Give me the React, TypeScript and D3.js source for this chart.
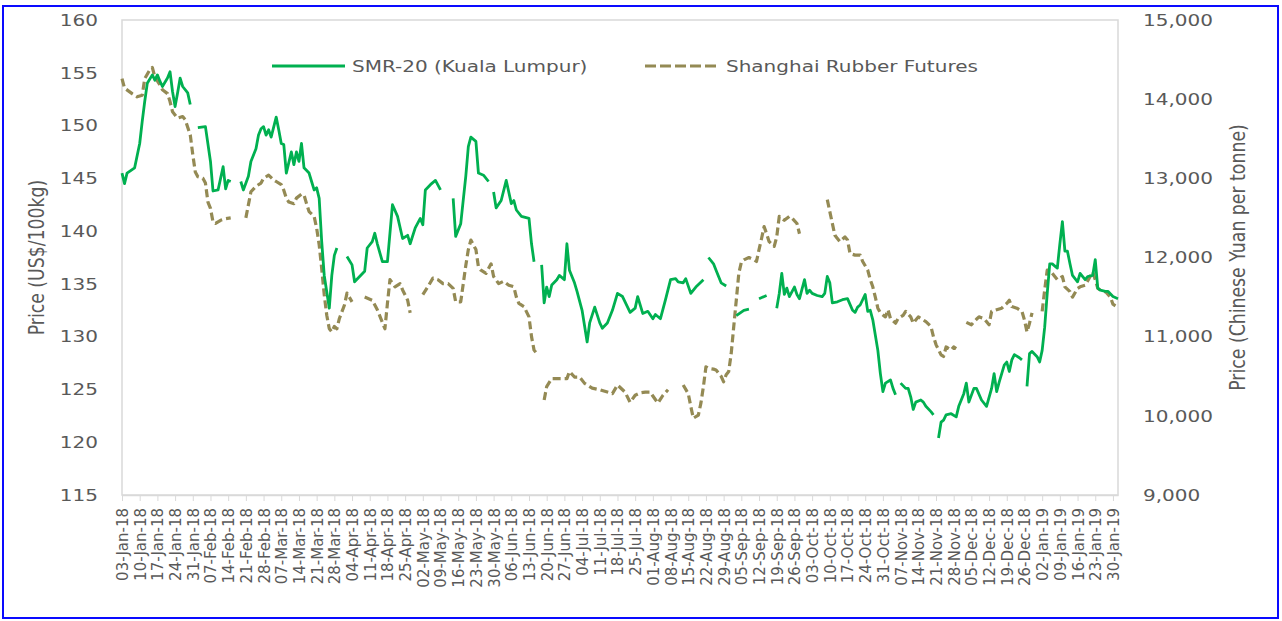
import React, { useEffect, useRef } from 'react';
import * as d3 from 'd3';

// SMR-20 (Kuala Lumpur), US$/100kg, one inner array per unbroken run of the line
const smrDates: string[][] = [
  ['2018-01-03', '2018-01-04', '2018-01-05', '2018-01-08', '2018-01-10', '2018-01-11', '2018-01-12', '2018-01-13', '2018-01-15', '2018-01-16', '2018-01-17', '2018-01-18', '2018-01-19', '2018-01-21', '2018-01-22', '2018-01-23', '2018-01-24', '2018-01-25', '2018-01-26', '2018-01-27', '2018-01-29', '2018-01-30'],
  ['2018-02-02', '2018-02-05', '2018-02-07', '2018-02-08', '2018-02-10', '2018-02-11', '2018-02-12', '2018-02-13', '2018-02-14', '2018-02-15'],
  ['2018-02-19', '2018-02-20', '2018-02-22', '2018-02-23', '2018-02-25', '2018-02-26', '2018-02-27', '2018-02-28', '2018-03-01', '2018-03-02', '2018-03-03', '2018-03-05', '2018-03-06', '2018-03-07', '2018-03-08', '2018-03-09', '2018-03-11', '2018-03-12', '2018-03-13', '2018-03-14', '2018-03-15', '2018-03-16', '2018-03-18', '2018-03-19', '2018-03-20', '2018-03-21', '2018-03-22', '2018-03-23', '2018-03-24', '2018-03-26', '2018-03-27', '2018-03-28', '2018-03-29'],
  ['2018-04-02', '2018-04-04', '2018-04-05', '2018-04-07', '2018-04-09', '2018-04-10', '2018-04-12', '2018-04-13', '2018-04-14', '2018-04-16', '2018-04-18', '2018-04-20', '2018-04-22', '2018-04-24', '2018-04-26', '2018-04-27', '2018-04-29', '2018-05-01', '2018-05-02', '2018-05-03', '2018-05-05', '2018-05-07', '2018-05-09'],
  ['2018-05-14', '2018-05-15', '2018-05-17', '2018-05-19', '2018-05-20', '2018-05-21', '2018-05-23', '2018-05-24', '2018-05-26', '2018-05-28'],
  ['2018-05-30', '2018-05-31', '2018-06-02', '2018-06-04', '2018-06-06', '2018-06-07', '2018-06-08', '2018-06-10', '2018-06-13', '2018-06-14', '2018-06-15'],
  ['2018-06-18', '2018-06-19', '2018-06-20', '2018-06-21', '2018-06-22', '2018-06-24', '2018-06-25', '2018-06-27', '2018-06-28', '2018-06-29', '2018-07-01', '2018-07-02', '2018-07-04', '2018-07-06', '2018-07-07', '2018-07-09', '2018-07-11', '2018-07-12', '2018-07-14', '2018-07-16', '2018-07-18', '2018-07-20', '2018-07-23', '2018-07-25', '2018-07-26', '2018-07-28', '2018-07-30', '2018-08-01', '2018-08-02', '2018-08-04', '2018-08-06', '2018-08-08', '2018-08-10', '2018-08-11', '2018-08-13', '2018-08-14', '2018-08-16', '2018-08-18', '2018-08-21'],
  ['2018-08-23', '2018-08-25', '2018-08-26', '2018-08-27', '2018-08-28', '2018-08-30'],
  ['2018-09-03', '2018-09-06', '2018-09-08'],
  ['2018-09-12', '2018-09-15'],
  ['2018-09-19', '2018-09-20', '2018-09-21', '2018-09-22', '2018-09-23', '2018-09-24', '2018-09-26', '2018-09-27', '2018-09-28', '2018-09-30', '2018-10-01', '2018-10-02', '2018-10-03', '2018-10-05', '2018-10-07', '2018-10-08', '2018-10-09', '2018-10-10', '2018-10-11', '2018-10-13', '2018-10-15', '2018-10-17', '2018-10-19', '2018-10-20', '2018-10-21', '2018-10-22', '2018-10-24', '2018-10-25', '2018-10-26', '2018-10-27', '2018-10-29', '2018-10-30', '2018-10-31', '2018-11-01', '2018-11-03', '2018-11-04', '2018-11-05'],
  ['2018-11-07', '2018-11-09', '2018-11-10', '2018-11-11', '2018-11-12', '2018-11-13', '2018-11-15', '2018-11-16', '2018-11-17', '2018-11-19', '2018-11-20'],
  ['2018-11-22', '2018-11-23', '2018-11-24', '2018-11-25', '2018-11-27', '2018-11-29', '2018-11-30', '2018-12-02', '2018-12-03', '2018-12-04', '2018-12-06', '2018-12-07', '2018-12-09', '2018-12-11', '2018-12-13', '2018-12-14', '2018-12-15', '2018-12-16', '2018-12-17', '2018-12-18', '2018-12-19', '2018-12-20', '2018-12-21', '2018-12-22', '2018-12-24', '2018-12-25'],
  ['2018-12-27', '2018-12-28', '2018-12-29', '2018-12-31', '2019-01-01', '2019-01-02', '2019-01-03', '2019-01-04', '2019-01-05', '2019-01-06', '2019-01-08', '2019-01-09', '2019-01-10', '2019-01-11', '2019-01-12', '2019-01-13', '2019-01-14', '2019-01-16', '2019-01-17', '2019-01-19', '2019-01-20', '2019-01-22', '2019-01-23', '2019-01-24', '2019-01-25', '2019-01-27', '2019-01-28', '2019-01-30', '2019-02-01'],
];
const smrValues: number[][] = [
  [145.5, 144.5, 145.5, 146.0, 148.3, 150.4, 152.3, 154.0, 154.8, 154.3, 154.8, 154.2, 153.7, 154.5, 155.1, 153.2, 151.8, 153.1, 154.5, 153.7, 153.1, 152.0],
  [149.8, 149.9, 146.6, 143.8, 143.9, 145.0, 146.1, 144.0, 144.8, 144.7],
  [144.7, 143.9, 145.2, 146.6, 147.8, 149.1, 149.7, 149.9, 149.1, 149.6, 148.9, 150.8, 149.6, 148.3, 148.2, 145.5, 147.5, 146.3, 147.5, 146.6, 148.3, 146.0, 145.5, 144.7, 143.9, 144.1, 143.1, 139.0, 135.8, 132.7, 135.8, 137.7, 138.4],
  [137.6, 136.8, 135.2, 135.7, 136.2, 138.4, 139.0, 139.8, 138.8, 137.1, 137.1, 142.5, 141.4, 139.3, 139.6, 138.8, 140.3, 141.2, 140.6, 143.9, 144.4, 144.8, 143.9],
  [143.1, 139.5, 140.7, 145.2, 148.0, 148.9, 148.5, 145.5, 145.3, 144.7],
  [143.7, 142.2, 142.9, 144.8, 142.6, 142.9, 142.0, 141.4, 141.2, 138.8, 137.1],
  [136.8, 133.2, 134.7, 133.8, 134.9, 135.4, 135.8, 135.4, 138.8, 136.3, 135.1, 134.3, 132.5, 129.5, 131.3, 132.8, 131.3, 130.8, 131.3, 132.5, 134.1, 133.8, 132.3, 132.7, 133.8, 132.2, 132.4, 131.7, 132.1, 131.7, 133.5, 135.4, 135.5, 135.2, 135.1, 135.5, 134.1, 134.7, 135.4],
  [137.5, 136.9, 136.3, 135.7, 135.1, 134.8],
  [132.0, 132.5, 132.6],
  [133.6, 133.9],
  [132.7, 134.1, 136.0, 134.0, 134.6, 133.8, 134.7, 134.0, 133.6, 135.4, 134.1, 134.4, 134.1, 133.9, 133.8, 134.1, 135.7, 135.1, 133.2, 133.3, 133.5, 133.6, 132.5, 132.3, 132.8, 133.0, 134.0, 132.4, 132.5, 131.6, 128.7, 126.5, 124.8, 125.6, 125.9, 125.1, 124.5],
  [125.6, 125.1, 125.1, 124.3, 123.1, 123.8, 124.0, 123.8, 123.4, 122.9, 122.6],
  [120.4, 121.9, 122.1, 122.6, 122.7, 122.4, 123.4, 124.6, 125.6, 123.8, 125.1, 125.1, 124.0, 123.4, 125.1, 126.5, 124.8, 125.7, 126.5, 127.3, 127.6, 126.7, 127.8, 128.3, 128.0, 127.8],
  [125.3, 128.4, 128.6, 128.1, 127.6, 128.7, 130.9, 134.1, 136.9, 136.9, 136.5, 138.8, 140.9, 138.1, 138.1, 136.9, 135.8, 135.2, 136.0, 135.4, 135.7, 135.8, 137.3, 134.6, 134.4, 134.3, 134.3, 133.8, 133.6],
];

// Shanghai Rubber Futures, yuan per tonne
const shfeDates: string[][] = [
  ['2018-01-03', '2018-01-04', '2018-01-07', '2018-01-09', '2018-01-11', '2018-01-12', '2018-01-14', '2018-01-15', '2018-01-16', '2018-01-18', '2018-01-19', '2018-01-21', '2018-01-22', '2018-01-23', '2018-01-25', '2018-01-27', '2018-01-28', '2018-01-30', '2018-01-31', '2018-02-01', '2018-02-02', '2018-02-04', '2018-02-05', '2018-02-06', '2018-02-07', '2018-02-08', '2018-02-09', '2018-02-11', '2018-02-13', '2018-02-15'],
  ['2018-02-21', '2018-02-23', '2018-02-25', '2018-02-27', '2018-02-28', '2018-03-02', '2018-03-04', '2018-03-05', '2018-03-07', '2018-03-08', '2018-03-09', '2018-03-10', '2018-03-12', '2018-03-13', '2018-03-15', '2018-03-16', '2018-03-17', '2018-03-18', '2018-03-20', '2018-03-21', '2018-03-22', '2018-03-23', '2018-03-24', '2018-03-25', '2018-03-26', '2018-03-27', '2018-03-28', '2018-03-29', '2018-03-30', '2018-04-01', '2018-04-02', '2018-04-04'],
  ['2018-04-09', '2018-04-12', '2018-04-14', '2018-04-17', '2018-04-18', '2018-04-19', '2018-04-21', '2018-04-23', '2018-04-24', '2018-04-26', '2018-04-27'],
  ['2018-05-02', '2018-05-04', '2018-05-06', '2018-05-08', '2018-05-10', '2018-05-12', '2018-05-14', '2018-05-15', '2018-05-17', '2018-05-18', '2018-05-19', '2018-05-20', '2018-05-21', '2018-05-23', '2018-05-24', '2018-05-25', '2018-05-27', '2018-05-29', '2018-05-30', '2018-06-01', '2018-06-03', '2018-06-05', '2018-06-07', '2018-06-08', '2018-06-09', '2018-06-11', '2018-06-13', '2018-06-14', '2018-06-15', '2018-06-16'],
  ['2018-06-19', '2018-06-20', '2018-06-22', '2018-06-25', '2018-06-28', '2018-06-29', '2018-07-01', '2018-07-03', '2018-07-05', '2018-07-08', '2018-07-11', '2018-07-14', '2018-07-16', '2018-07-18', '2018-07-21', '2018-07-23', '2018-07-25', '2018-07-27', '2018-07-29', '2018-07-31', '2018-08-01', '2018-08-03', '2018-08-05', '2018-08-07'],
  ['2018-08-13', '2018-08-15', '2018-08-16', '2018-08-17', '2018-08-19', '2018-08-20', '2018-08-21', '2018-08-22', '2018-08-23', '2018-08-25', '2018-08-26', '2018-08-28', '2018-08-29', '2018-08-30', '2018-08-31', '2018-09-01', '2018-09-02', '2018-09-03', '2018-09-04', '2018-09-05', '2018-09-06', '2018-09-08', '2018-09-10', '2018-09-11', '2018-09-12', '2018-09-13', '2018-09-14', '2018-09-15', '2018-09-16', '2018-09-18', '2018-09-19', '2018-09-20', '2018-09-22', '2018-09-24', '2018-09-25', '2018-09-27', '2018-09-28'],
  ['2018-10-09', '2018-10-10', '2018-10-11', '2018-10-12', '2018-10-13', '2018-10-14', '2018-10-16', '2018-10-17', '2018-10-18', '2018-10-20', '2018-10-22', '2018-10-23', '2018-10-25', '2018-10-26', '2018-10-27', '2018-10-28', '2018-10-29', '2018-10-30', '2018-11-01', '2018-11-02', '2018-11-03', '2018-11-05', '2018-11-06', '2018-11-08', '2018-11-09', '2018-11-11', '2018-11-12', '2018-11-14', '2018-11-15', '2018-11-17', '2018-11-19', '2018-11-20', '2018-11-21', '2018-11-23', '2018-11-24', '2018-11-25', '2018-11-27', '2018-11-28', '2018-11-29'],
  ['2018-12-03', '2018-12-05', '2018-12-07', '2018-12-08', '2018-12-10', '2018-12-12', '2018-12-13', '2018-12-15', '2018-12-17', '2018-12-19', '2018-12-20', '2018-12-21', '2018-12-23', '2018-12-25', '2018-12-26', '2018-12-27', '2018-12-28', '2018-12-29'],
  ['2019-01-02', '2019-01-03', '2019-01-04', '2019-01-05', '2019-01-07', '2019-01-08', '2019-01-10', '2019-01-11', '2019-01-13', '2019-01-14', '2019-01-16', '2019-01-17', '2019-01-19', '2019-01-21', '2019-01-22', '2019-01-23', '2019-01-24', '2019-01-26', '2019-01-27', '2019-01-29', '2019-01-30', '2019-01-31'],
];
const shfeValues: number[][] = [
  [14260, 14140, 14070, 14030, 14050, 14260, 14370, 14400, 14280, 14180, 14120, 14070, 13970, 13840, 13760, 13780, 13740, 13550, 13300, 13080, 13020, 13000, 12940, 12700, 12620, 12450, 12430, 12470, 12490, 12500],
  [12500, 12830, 12900, 12940, 13000, 13040, 12980, 12960, 12920, 12850, 12750, 12700, 12680, 12750, 12800, 12790, 12680, 12580, 12520, 12370, 12160, 11860, 11530, 11270, 11100, 11060, 11130, 11100, 11230, 11400, 11550, 11440],
  [11500, 11460, 11340, 11100, 11420, 11720, 11630, 11670, 11590, 11460, 11300],
  [11530, 11630, 11740, 11720, 11670, 11670, 11610, 11440, 11440, 11670, 11900, 12100, 12220, 12100, 11880, 11840, 11800, 11920, 11760, 11670, 11700, 11650, 11630, 11500, 11420, 11380, 11250, 11000, 10830, 10790],
  [10200, 10370, 10470, 10470, 10470, 10560, 10490, 10490, 10410, 10350, 10330, 10300, 10280, 10390, 10300, 10170, 10260, 10290, 10300, 10300, 10250, 10160, 10260, 10330],
  [10390, 10280, 10120, 9970, 10010, 10160, 10370, 10620, 10600, 10590, 10580, 10500, 10430, 10520, 10560, 10790, 11130, 11460, 11800, 11940, 11970, 12000, 11970, 11950, 12100, 12240, 12390, 12300, 12200, 12140, 12260, 12520, 12470, 12520, 12500, 12430, 12300],
  [12730, 12580, 12430, 12280, 12240, 12200, 12260, 12220, 12050, 12030, 12030, 11950, 11840, 11720, 11630, 11500, 11360, 11300, 11250, 11340, 11230, 11170, 11230, 11270, 11320, 11250, 11170, 11250, 11230, 11190, 11130, 11000, 10900, 10770, 10750, 10870, 10830, 10870, 10850],
  [11180, 11150, 11220, 11250, 11230, 11150, 11320, 11340, 11360, 11420, 11460, 11380, 11360, 11320, 11210, 11060, 11170, 11300],
  [11320, 11590, 11840, 11840, 11760, 11720, 11760, 11630, 11570, 11500, 11610, 11630, 11650, 11760, 11820, 11720, 11610, 11570, 11570, 11500, 11410, 11390],
];

const leftTicks = [115, 120, 125, 130, 135, 140, 145, 150, 155, 160];
const rightTicks = [9000, 10000, 11000, 12000, 13000, 14000, 15000];
const seriesNames = ['SMR-20 (Kuala Lumpur)', 'Shanghai Rubber Futures'];
const axisTitles = ['Price (US$/100kg)', 'Price (Chinese Yuan per tonne)'];
const axisStart = '2018-01-03';
const axisEnd = '2019-02-01';

const WIDTH = 1282;
const HEIGHT = 621;
const GREEN = '#00b050';
const TAN = '#948a54';
const TEXT = '#595959';
const FONT = "'DejaVu Sans', sans-serif";

const RubberPriceChart: React.FC = () => {
  const svgRef = useRef<SVGSVGElement | null>(null);

  useEffect(() => {
    if (!svgRef.current) return;
    const svg = d3.select(svgRef.current);
    svg.selectAll('*').remove();

    const left = 122, right = 1118, top = 20, bottom = 495;
    const parse = d3.timeParse('%Y-%m-%d');
    const fmt = d3.timeFormat('%d-%b-%y');
    const start = parse(axisStart)!;
    const end = parse(axisEnd)!;

    const x = d3.scaleTime().domain([start, end]).range([left, right]);
    const yLeft = d3.scaleLinear().domain([115, 160]).range([bottom, top]);
    const yRight = d3.scaleLinear().domain([9000, 15000]).range([bottom, top]);

    svg.append('rect').attr('width', WIDTH).attr('height', HEIGHT).attr('fill', '#fff');
    svg.append('rect')
      .attr('x', 3).attr('y', 6).attr('width', 1275).attr('height', 612)
      .attr('fill', 'none').attr('stroke', '#0a0aff').attr('stroke-width', 2);

    // plot area frame
    svg.append('rect')
      .attr('x', left).attr('y', top).attr('width', right - left).attr('height', bottom - top)
      .attr('fill', 'none').attr('stroke', '#d9d9d9').attr('stroke-width', 1.5);

    // x axis, one tick per week
    const weeks = d3.timeWednesday.range(start, end);
    const xAxis = svg.append('g')
      .attr('transform', `translate(0,${bottom})`)
      .call(d3.axisBottom(x).tickValues(weeks).tickFormat(() => '').tickSize(6).tickSizeOuter(0));
    xAxis.select('.domain').attr('stroke', '#d9d9d9').attr('stroke-width', 1.5);
    xAxis.selectAll('.tick line').attr('stroke', '#d9d9d9');

    svg.append('g').selectAll('text')
      .data(weeks)
      .enter().append('text')
      .attr('transform', d => `translate(${x(d)},508) scale(1.1,1) rotate(-90)`)
      .attr('dy', '0.36em')
      .attr('text-anchor', 'end')
      .attr('font-family', FONT).attr('font-size', 15).attr('fill', TEXT)
      .text(d => fmt(d));

    // y axis labels
    svg.append('g').selectAll('text')
      .data(leftTicks)
      .enter().append('text')
      .attr('transform', d => `translate(98,${yLeft(d)}) scale(1.25,1)`)
      .attr('dy', '0.36em')
      .attr('text-anchor', 'end')
      .attr('font-family', FONT).attr('font-size', 16).attr('fill', TEXT)
      .text(d => d3.format('d')(d));

    svg.append('g').selectAll('text')
      .data(rightTicks)
      .enter().append('text')
      .attr('transform', d => `translate(1143,${yRight(d)}) scale(1.25,1)`)
      .attr('dy', '0.36em')
      .attr('text-anchor', 'start')
      .attr('font-family', FONT).attr('font-size', 16).attr('fill', TEXT)
      .text(d => d3.format(',')(d));

    // axis titles
    const midY = (top + bottom) / 2;
    [[44, axisTitles[0]], [1245, axisTitles[1]]].forEach(([tx, label]) => {
      svg.append('text')
        .attr('transform', `translate(${tx},${midY}) scale(1.25,1) rotate(-90)`)
        .attr('text-anchor', 'middle')
        .attr('font-family', FONT).attr('font-size', 17.3).attr('fill', TEXT)
        .text(label as string);
    });

    // series lines
    const line = d3.line<[Date, number]>().x(d => x(d[0])).y(d => d[1]);
    const drawSeries = (
      dates: string[][], values: number[][], scale: d3.ScaleLinear<number, number>,
      color: string, width: number, dash: string | null,
    ) => {
      dates.forEach((seg, i) => {
        const pts: [Date, number][] = seg.map((s, j) => [parse(s)!, scale(values[i][j])]);
        const path = svg.append('path')
          .attr('d', line(pts))
          .attr('fill', 'none')
          .attr('stroke', color)
          .attr('stroke-width', width)
          .attr('stroke-linejoin', 'round');
        if (dash) path.attr('stroke-dasharray', dash);
      });
    };
    drawSeries(shfeDates, shfeValues, yRight, TAN, 3.2, '8,4');
    drawSeries(smrDates, smrValues, yLeft, GREEN, 2.8, null);

    // legend
    const legend = svg.append('g');
    legend.append('line')
      .attr('x1', 272).attr('x2', 345).attr('y1', 66).attr('y2', 66)
      .attr('stroke', GREEN).attr('stroke-width', 3);
    legend.append('text')
      .attr('transform', 'translate(352,66) scale(1.25,1)')
      .attr('dy', '0.36em')
      .attr('font-family', FONT).attr('font-size', 16).attr('fill', TEXT)
      .text(seriesNames[0]);
    legend.append('line')
      .attr('x1', 645).attr('x2', 720).attr('y1', 66).attr('y2', 66)
      .attr('stroke', TAN).attr('stroke-width', 3.2).attr('stroke-dasharray', '11,4');
    legend.append('text')
      .attr('transform', 'translate(726,66) scale(1.25,1)')
      .attr('dy', '0.36em')
      .attr('font-family', FONT).attr('font-size', 16).attr('fill', TEXT)
      .text(seriesNames[1]);
  }, []);

  return (
    <svg
      ref={svgRef}
      width={WIDTH}
      height={HEIGHT}
      style={{ position: 'absolute', left: 0, top: 0, display: 'block' }}
    />
  );
};

export default function App() {
  return <RubberPriceChart />;
}
